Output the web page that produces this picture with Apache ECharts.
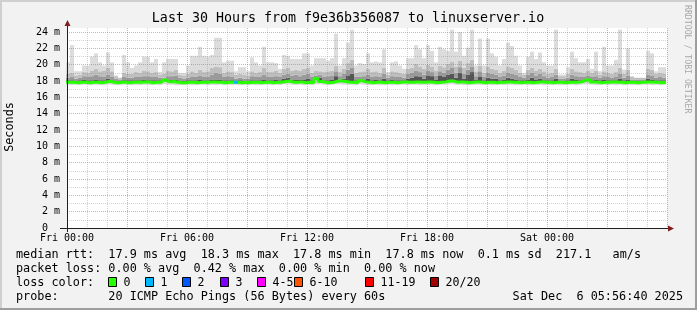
<!DOCTYPE html>
<html><head><meta charset="utf-8">
<script src="https://cdn.jsdelivr.net/npm/echarts@6/dist/echarts.min.js"></script>
<style>html,body{margin:0;padding:0;background:#f2f2f2}#c{width:697px;height:310px}</style>
</head><body><div id="c"></div>
<script>
// ---------- data ----------
const titleText = 'Last 30 Hours from f9e36b356087 to linuxserver.io';
const yAxisName = 'Seconds';
const watermark = 'RRDTOOL / TOBI OETIKER';
const hourTicks = [0, 6, 12, 18, 24];
const tickLabels = ['Fri 00:00', 'Fri 06:00', 'Fri 12:00', 'Fri 18:00', 'Sat 00:00'];
const yTicks = [0, 2, 4, 6, 8, 10, 12, 14, 16, 18, 20, 22, 24];
const yTickLabels = ['0  ', '2 m', '4 m', '6 m', '8 m', '10 m', '12 m', '14 m', '16 m', '18 m', '20 m', '22 m', '24 m'];

// smoke top (max ping) per 12-minute bucket, ms
const smokeMax = [
20.3,22.4,19.2,19.2,19.9,19.9,21.0,21.4,20.3,19.9,21.5,20.3,18.7,18.4,21.2,20.3,19.6,19.9,20.3,21.0,21.0,20.3,20.7,19.1,20.3,20.7,20.7,20.7,19.0,19.0,
19.9,21.1,21.1,22.2,21.1,21.0,21.2,23.3,23.3,20.3,20.5,20.5,19.2,19.7,19.7,19.2,20.9,20.3,19.9,22.2,20.3,20.3,20.2,19.5,21.2,21.1,20.7,20.7,20.7,21.4,
21.4,19.9,20.8,20.8,20.8,20.5,20.8,23.8,19.9,20.8,22.7,24.3,19.9,20.2,20.1,21.4,20.3,20.4,20.3,21.9,19.1,20.3,20.4,19.9,19.5,20.8,20.8,22.4,21.9,20.8,
22.4,21.7,20.3,22.2,21.9,21.7,24.3,21.6,24.0,21.1,22.1,24.3,19.9,23.2,19.9,23.2,21.4,21.0,19.9,20.7,22.7,22.3,21.1,19.9,19.0,21.0,21.6,20.7,21.5,20.3,
19.9,19.9,24.3,18.8,18.8,19.7,21.6,20.8,20.3,20.3,20.7,19.5,21.6,19.2,22.2,19.9,19.9,20.6,24.3,19.4,22.0,18.6,18.4,18.4,18.4,21.7,21.4,19.2,19.7,19.7];
// upper edge of the mid-light smoke band
const smokeL3 = [
18.9,19.0,18.7,18.8,19.1,19.0,19.3,19.5,19.2,19.3,19.6,19.2,18.6,18.4,19.0,18.9,18.9,19.1,19.0,19.3,19.2,19.0,19.1,18.8,18.9,19.3,19.2,19.4,18.8,18.7,
18.9,19.2,19.0,19.4,19.1,19.2,19.6,19.8,19.7,19.0,19.2,19.1,18.8,18.9,18.8,18.7,19.2,19.0,19.1,19.6,19.1,19.1,19.3,19.0,19.5,19.6,19.3,19.4,19.3,19.5,
19.6,19.0,19.3,19.2,19.1,19.2,19.3,19.9,19.1,19.5,20.2,20.6,19.0,19.1,19.2,19.5,19.1,19.2,19.0,19.6,18.8,19.2,19.1,19.0,18.9,19.5,19.6,20.1,19.8,19.5,
20.0,19.8,19.3,19.9,19.7,20.1,20.4,19.8,20.5,19.6,20.2,20.6,19.2,19.9,19.0,19.8,19.5,19.4,19.0,19.3,19.8,19.6,19.4,19.0,18.8,19.4,19.6,19.3,19.5,19.2,
18.9,19.0,19.5,18.6,18.6,18.9,19.5,19.2,19.1,19.0,19.3,19.0,19.3,18.8,19.2,19.0,18.9,19.1,19.6,18.9,19.4,18.5,18.4,18.4,18.4,19.5,19.4,18.9,19.0,18.9];
// upper edge of the mid-grey smoke band
const smokeL2 = [
18.4,18.5,18.3,18.4,18.6,18.5,18.6,18.8,18.6,18.5,18.8,18.5,18.3,18.2,18.5,18.4,18.4,18.5,18.5,18.6,18.6,18.5,18.5,18.4,18.4,18.6,18.6,18.7,18.4,18.3,
18.4,18.5,18.5,18.7,18.5,18.5,18.8,19.0,18.9,18.5,18.6,18.5,18.3,18.4,18.3,18.3,18.6,18.5,18.5,18.8,18.5,18.5,18.6,18.5,18.8,18.9,18.7,18.8,18.6,18.8,
18.9,18.5,18.7,18.8,18.5,18.6,18.7,19.2,18.6,18.9,19.4,19.6,18.5,18.5,18.6,18.8,18.5,18.6,18.5,18.9,18.4,18.6,18.5,18.5,18.4,18.9,19.0,19.3,19.1,18.8,
19.3,19.1,18.7,19.2,19.0,19.4,19.6,19.0,19.7,18.9,19.4,19.8,18.6,19.2,18.5,19.0,18.9,18.8,18.5,18.7,19.0,18.9,18.8,18.5,18.4,18.8,19.0,18.7,18.9,18.6,
18.4,18.5,18.8,18.3,18.3,18.4,18.8,18.6,18.5,18.5,18.7,18.5,18.6,18.4,18.6,18.5,18.4,18.5,18.9,18.4,18.7,18.2,18.2,18.2,18.2,18.8,18.7,18.4,18.5,18.4];
// upper edge of the dark smoke band
const smokeL1 = [
18.1,18.1,18.0,18.1,18.2,18.1,18.1,18.2,18.1,18.1,18.3,18.1,18.0,18.0,18.1,18.1,18.1,18.1,18.1,18.2,18.1,18.1,18.1,18.1,18.3,18.1,18.2,18.2,18.0,18.0,
18.1,18.1,18.1,18.2,18.1,18.1,18.2,18.2,18.2,18.1,18.1,18.1,18.0,18.1,18.0,18.0,18.1,18.1,18.1,18.2,18.1,18.1,18.2,18.1,18.3,18.4,18.2,18.2,18.2,18.2,
18.3,18.1,18.5,18.4,18.1,18.1,18.2,18.6,18.2,18.3,18.7,18.9,18.1,18.1,18.2,18.3,18.1,18.2,18.1,18.3,18.1,18.2,18.1,18.1,18.1,18.3,18.4,18.6,18.5,18.3,
18.7,18.6,18.2,18.7,18.5,18.8,18.9,18.4,19.0,18.3,18.8,19.1,18.2,18.5,18.1,18.4,18.3,18.3,18.1,18.2,18.4,18.3,18.2,18.1,18.1,18.2,18.4,18.2,18.3,18.1,
18.1,18.1,18.3,18.0,18.0,18.1,18.3,18.2,18.1,18.1,18.3,18.1,18.2,18.1,18.2,18.1,18.1,18.1,18.3,18.1,18.2,18.0,18.0,18.0,18.0,18.3,18.2,18.1,18.1,18.1];
// median rtt per bucket
const medianRtt = [
17.85,17.85,17.8,17.85,17.85,17.8,17.85,17.85,17.8,17.85,18.0,17.85,17.8,17.85,17.85,17.8,17.85,17.85,17.85,17.9,17.85,17.8,17.85,17.85,18.1,17.9,17.95,17.85,17.8,17.8,
17.85,17.85,17.8,17.85,17.85,17.85,17.9,17.85,17.85,17.8,17.85,17.85,17.85,17.8,17.85,17.8,17.85,17.85,17.8,17.85,17.85,17.8,17.85,17.85,17.95,18.0,17.85,17.85,17.9,17.8,
17.85,17.8,18.3,17.95,17.85,17.8,17.85,18.0,18.0,17.95,17.85,17.85,17.8,18.05,17.9,17.85,17.8,17.85,17.85,17.8,17.85,17.85,17.8,17.85,17.9,17.85,17.85,17.9,17.85,17.85,
17.9,17.85,17.8,17.85,17.9,18.0,18.0,17.85,17.9,17.85,17.8,17.85,17.9,17.85,17.8,17.85,17.85,17.8,17.85,17.85,17.9,17.85,17.85,17.8,17.85,17.85,17.8,17.85,17.9,17.85,
17.85,17.8,17.85,17.85,17.8,17.85,17.85,17.85,17.9,18.1,18.2,17.9,17.85,17.8,17.85,17.85,17.9,17.85,17.85,17.8,17.85,17.85,17.8,17.85,17.85,17.9,17.85,17.85,17.8,17.85];
// bottom of smoke (min ping)
const smokeMin = [
17.55,17.5,17.55,17.5,17.55,17.55,17.5,17.55,17.5,17.55,17.6,17.55,17.5,17.5,17.55,17.55,17.5,17.55,17.5,17.55,17.55,17.5,17.55,17.5,17.6,17.55,17.55,17.5,17.5,17.5,
17.55,17.5,17.5,17.55,17.55,17.5,17.55,17.5,17.55,17.5,17.55,17.5,17.55,17.5,17.5,17.5,17.55,17.5,17.5,17.55,17.55,17.5,17.55,17.5,17.6,17.6,17.55,17.55,17.55,17.5,
17.55,17.5,17.6,17.6,17.55,17.5,17.55,17.6,17.6,17.55,17.55,17.55,17.5,17.6,17.55,17.5,17.5,17.55,17.5,17.5,17.55,17.5,17.5,17.55,17.55,17.5,17.55,17.55,17.5,17.55,
17.55,17.55,17.5,17.55,17.55,17.6,17.6,17.55,17.55,17.5,17.5,17.55,17.55,17.55,17.5,17.55,17.5,17.5,17.55,17.5,17.55,17.55,17.5,17.5,17.55,17.5,17.5,17.55,17.55,17.5,
17.55,17.5,17.55,17.5,17.5,17.55,17.55,17.5,17.55,17.6,17.6,17.55,17.5,17.5,17.55,17.5,17.55,17.5,17.55,17.5,17.55,17.5,17.5,17.5,17.55,17.55,17.5,17.55,17.5,17.55];
// buckets with packet loss (bucket index, lost pings)
const lossBuckets = [42];
const lossValues = [1];

const lossLabels = ['0', '1', '2', '3', '4-5', '6-10', '11-19', '20/20'];
const lossColors = ['#26ff00', '#00b8ff', '#0059ff', '#7e00ff', '#ff00ff', '#ff5500', '#ff0000', '#a10000'];
const lossLevelIndex = {0: 0, 1: 1, 2: 2, 3: 3};

const line1 = 'median rtt:  17.9 ms avg  18.3 ms max  17.8 ms min  17.8 ms now  0.1 ms sd  217.1   am/s';
const line2 = 'packet loss: 0.00 % avg  0.42 % max  0.00 % min  0.00 % now';
const line3 = 'loss color:';
const line4 = 'probe:       20 ICMP Echo Pings (56 Bytes) every 60s';
const stamp = 'Sat Dec  6 05:56:40 2025';

// ---------- styling / layout ----------
const MONO = '"DejaVu Sans Mono", monospace';
const MGRID = 'rgba(222,79,79,0.5)';
const GRID = 'rgba(143,143,143,0.4)';
const N = smokeMax.length;

// stacked smoke levels
const lv = [smokeMin.slice()];
lv.push(medianRtt.map((m, i) => Math.max(m, lv[0][i])));
[smokeL1, smokeL2, smokeL3, smokeMax].forEach(arr => {
  const prev = lv[lv.length - 1];
  lv.push(arr.map((v, i) => Math.max(v, prev[i])));
});
const bandColors = ['rgba(0,0,0,0)', '#d8d8d8', '#555555', '#9a9a9a', '#bebebe', '#dcdcdc'];
const series = lv.map((arr, k) => ({
  type: 'bar', stack: 'smoke', xAxisIndex: 1, yAxisIndex: 1,
  barWidth: 4, silent: true, z: 2,
  itemStyle: { color: bandColors[k] },
  data: arr.map((v, i) => +(v - (k ? lv[k - 1][i] : 0)).toFixed(3))
}));
const medPts = medianRtt.map((v, i) => [i, v]);
medPts.push([N, medianRtt[N - 1]]);
series.push({
  type: 'line', xAxisIndex: 2, yAxisIndex: 1, data: medPts, step: 'end',
  symbol: 'none', silent: true, z: 6,
  lineStyle: { color: lossColors[0], width: 3 }
});
lossBuckets.forEach((b, k) => {
  series.push({
    type: 'line', xAxisIndex: 2, yAxisIndex: 1, symbol: 'none', silent: true, z: 7,
    data: [[b, medianRtt[b]], [b + 1, medianRtt[b]]],
    lineStyle: { color: lossColors[lossLevelIndex[lossValues[k]]], width: 3 }
  });
});

// grid line color arrays (one per tick)
const xLineColors = [];
for (let h = 0; h <= 30; h++) xLineColors.push(h % 3 === 0 ? MGRID : GRID);
const yLineColors = [];
for (let v = 0; v <= 25; v++) yLineColors.push(v === 0 || v === 25 ? 'rgba(0,0,0,0)' : (v % 2 === 0 ? MGRID : GRID));

const graphic = [
  { type: 'rect', shape: { x: 0, y: 0, width: 697, height: 2 }, style: { fill: '#cfcfcf' }, silent: true },
  { type: 'rect', shape: { x: 0, y: 0, width: 2, height: 310 }, style: { fill: '#cfcfcf' }, silent: true },
  { type: 'rect', shape: { x: 0, y: 308, width: 697, height: 2 }, style: { fill: '#9e9e9e' }, silent: true },
  { type: 'rect', shape: { x: 695, y: 0, width: 2, height: 310 }, style: { fill: '#9e9e9e' }, silent: true },
  { type: 'text', x: 348, y: 19, style: { text: titleText, font: '13.3px ' + MONO, fill: '#000', align: 'center', verticalAlign: 'middle' } },
  { type: 'text', x: 10, y: 127, rotation: Math.PI / 2, style: { text: yAxisName, font: '11.8px ' + MONO, fill: '#000', align: 'center', verticalAlign: 'middle' } },
  { type: 'text', x: 687, y: 5, rotation: -Math.PI / 2, style: { text: watermark, font: '8.2px ' + MONO, fill: '#a8a8a8', align: 'left', verticalAlign: 'middle' } },
  // axis extensions and arrows
  { type: 'line', shape: { x1: 60, y1: 228.5, x2: 668, y2: 228.5 }, style: { stroke: '#1f1f1f', lineWidth: 1 }, z: 10 },
  { type: 'line', shape: { x1: 67.5, y1: 232, x2: 67.5, y2: 24 }, style: { stroke: '#1f1f1f', lineWidth: 1 }, z: 9 },
  { type: 'polygon', shape: { points: [[668, 225.5], [674, 228.5], [668, 231.5]] }, style: { fill: '#801f1f' }, z: 10 },
  { type: 'polygon', shape: { points: [[64.5, 26], [67.5, 20], [70.5, 26]] }, style: { fill: '#801f1f' }, z: 10 },
  { type: 'text', x: 16, y: 254.5, style: { text: line1, font: '11.8px ' + MONO, fill: '#000', verticalAlign: 'middle' } },
  { type: 'text', x: 16, y: 268.5, style: { text: line2, font: '11.8px ' + MONO, fill: '#000', verticalAlign: 'middle' } },
  { type: 'text', x: 16, y: 282.5, style: { text: line3, font: '11.8px ' + MONO, fill: '#000', verticalAlign: 'middle' } },
  { type: 'text', x: 16, y: 296.5, style: { text: line4, font: '11.8px ' + MONO, fill: '#000', verticalAlign: 'middle' } },
  { type: 'text', x: 683, y: 296.5, style: { text: stamp, font: '11.8px ' + MONO, fill: '#000', align: 'right', verticalAlign: 'middle' } }
];
const boxX = [108.5, 145.5, 182.5, 220.5, 257.5, 294.5, 365.5, 430.5];
lossLabels.forEach((lab, i) => {
  graphic.push({ type: 'rect', shape: { x: boxX[i], y: 277.5, width: 8, height: 9 }, style: { fill: lossColors[i], stroke: '#000', lineWidth: 1 } });
  graphic.push({ type: 'text', x: boxX[i] + 15, y: 282.5, style: { text: lab, font: '11.6px ' + MONO, fill: '#000', verticalAlign: 'middle' } });
});

const chart = echarts.init(document.getElementById('c'), null, { renderer: 'canvas', width: 697, height: 310 });
chart.setOption({
  animation: false,
  backgroundColor: '#f2f2f2',
  grid: [
    { left: 67, top: 28, width: 600, height: 200, show: true, backgroundColor: '#ffffff', borderWidth: 0 },
    { left: 66, top: 28, width: 600, height: 200, show: false }
  ],
  xAxis: [
    {
      gridIndex: 0, type: 'value', min: 0, max: 30, interval: 1, z: 5,
      axisLine: { show: false }, axisTick: { show: false },
      axisLabel: {
        margin: 5, fontFamily: MONO, fontSize: 10, color: '#000',
        formatter: v => { const k = hourTicks.indexOf(v); return k >= 0 ? tickLabels[k] : ''; }
      },
      splitLine: { show: true, lineStyle: { color: xLineColors, width: 1, type: [1, 1] } }
    },
    { gridIndex: 1, type: 'category', data: smokeMax.map((_, i) => i), show: false, boundaryGap: true },
    { gridIndex: 1, type: 'value', min: 0, max: N, show: false }
  ],
  yAxis: [
    {
      gridIndex: 0, type: 'value', min: 0, max: 24.5, interval: 1, z: 5,
      axisLine: { show: false }, axisTick: { show: false },
      axisLabel: {
        margin: 7, fontFamily: MONO, fontSize: 10, color: '#000', showMaxLabel: false,
        formatter: v => { const k = yTicks.indexOf(v); return k >= 0 ? yTickLabels[k] : ''; }
      },
      splitLine: { show: true, lineStyle: { color: yLineColors, width: 1, type: [1, 1] } }
    },
    { gridIndex: 1, type: 'value', min: 0, max: 24.5, show: false }
  ],
  series: series,
  graphic: graphic
});
</script>
</body></html>
